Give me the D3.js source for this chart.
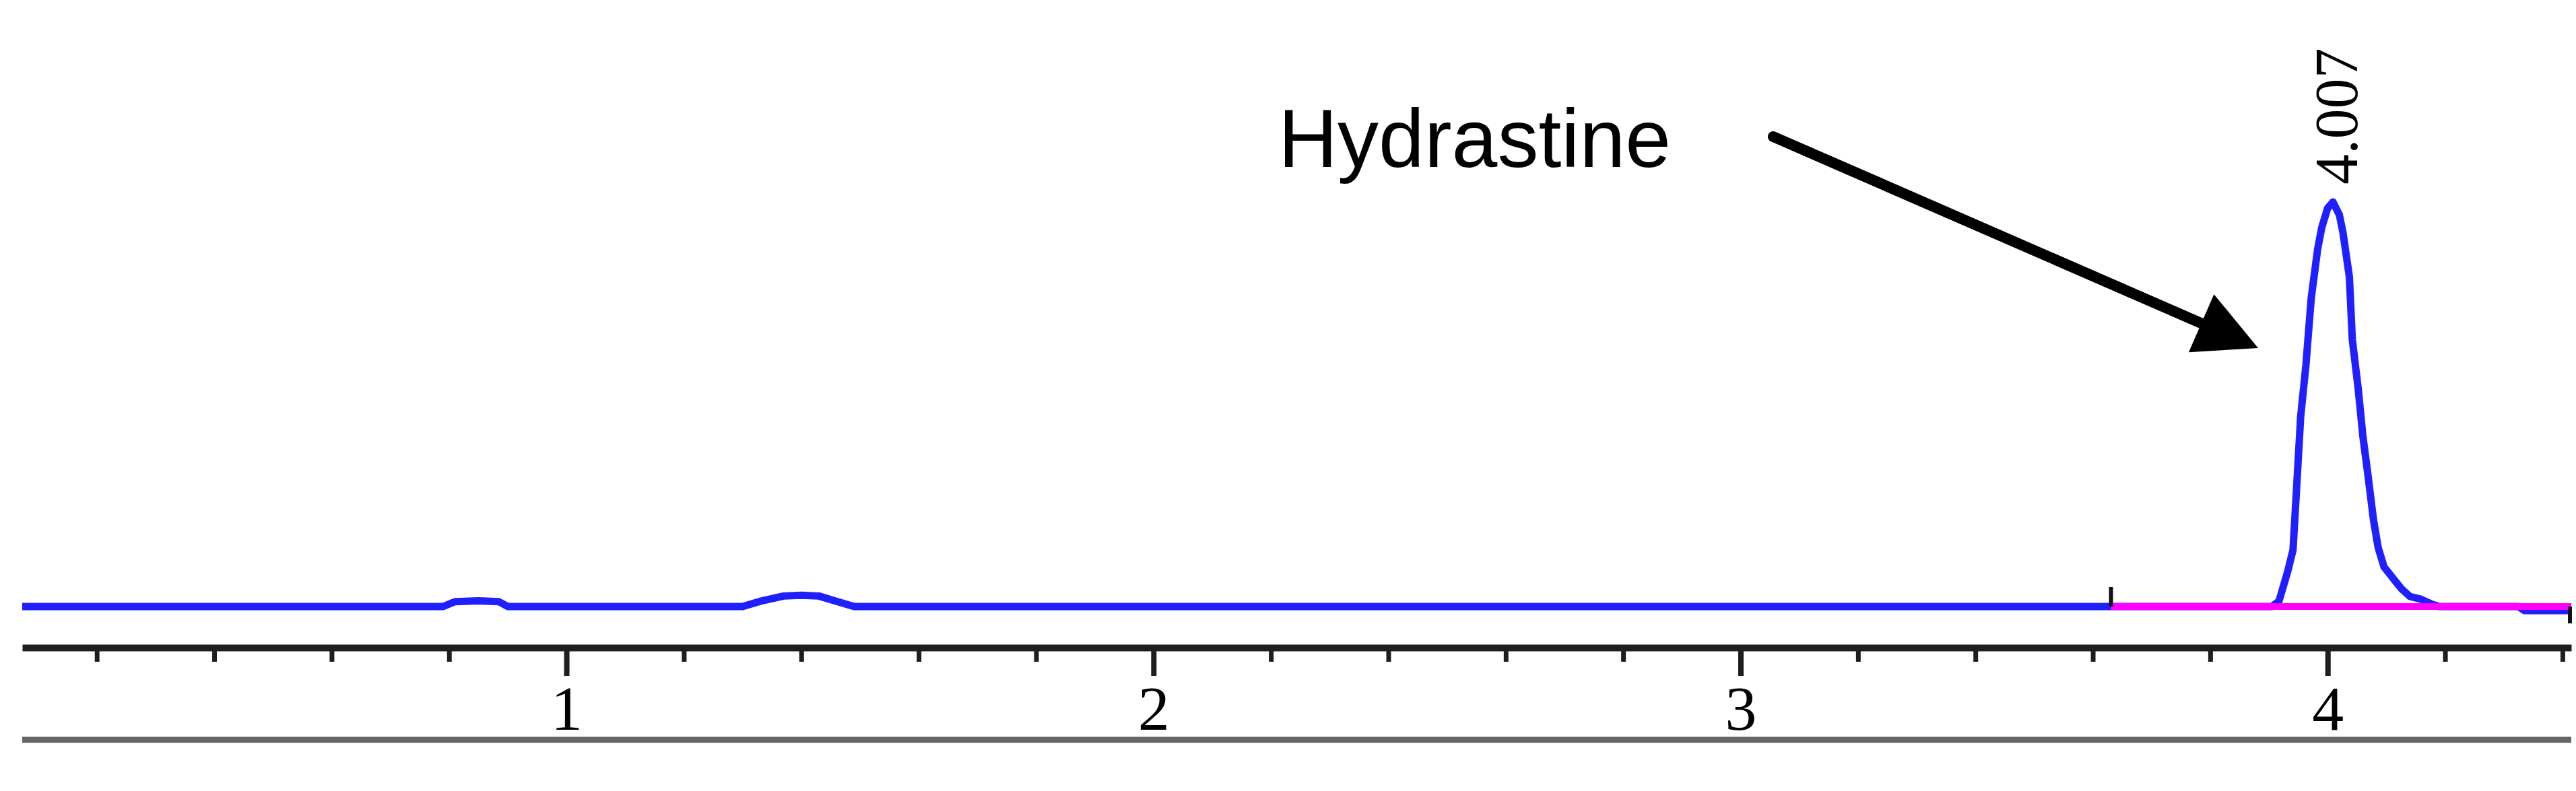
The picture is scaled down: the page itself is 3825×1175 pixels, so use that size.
<!DOCTYPE html>
<html>
<head>
  <meta charset="UTF-8">
  <title>Hydrastine chromatogram</title>
  <style>
    body { margin: 0; background: #fff; }
    svg { display: block; }
    .trace { fill: none; stroke: #2020ff; stroke-width: 11px; stroke-linejoin: round; }
    .baseline { fill: none; stroke: #ff00ff; stroke-width: 10px; }
    .axis path, .axis line { stroke: #1e1e1e; }
    .axis text { font-family: "Liberation Serif", "Times New Roman", serif; fill: #000; }
  </style>
</head>
<body>
  <div id="chart"></div>

  <script src="https://d3js.org/d3.v7.min.js"></script>
  <script>
    // retention time (min) and detector signal (relative units)
    const times = [
      0.073, 0.79, 0.81, 0.85, 0.885, 0.90,
      1.30, 1.33, 1.37, 1.40, 1.43, 1.46, 1.49,
      3.905, 3.917, 3.932, 3.941, 3.947, 3.954, 3.963, 3.972, 3.983, 3.990, 4.000,
      4.009, 4.020, 4.026, 4.037, 4.042, 4.052, 4.060, 4.069, 4.078, 4.086,
      4.096, 4.125, 4.140, 4.159, 4.179, 4.19,
      4.325, 4.335, 4.415
    ];
    const signal = [
      0, 0, 1.2, 1.4, 1.2, 0,
      0, 1.3, 2.6, 2.8, 2.6, 1.3, 0,
      0, 1.3, 8.7, 14.0, 29.0, 46.9, 59.7, 76.2, 88.4, 93.7, 98.5,
      100, 96.8, 92.5, 81.5, 66.0, 53.9, 42.1, 32.1, 21.5, 14.6,
      9.8, 4.5, 2.5, 1.8, 0.5, 0,
      0, -1.0, -1.0
    ];

    // integration baseline of the peak
    const baselineTimes = [3.631, 4.415];
    const baselineValues = [0, 0];

    const majorTicks = [1, 2, 3, 4];
    const minorTicks = d3.range(2, 45, 2).map(d => d / 10).filter(d => !majorTicks.includes(d));

    const peakName = "Hydrastine";
    const peakTime = 4.007;
    const peakLabel = "4.007";

    const width = 3825;
    const height = 1175;

    const svg = d3.select("#chart")
      .append("svg")
      .attr("width", width)
      .attr("height", height);

    const x = d3.scaleLinear().domain([0.073, 4.415]).range([33, 3818]);
    const y = d3.scaleLinear().domain([0, 100]).range([901, 300]);

    const axisY = 962;

    // trace
    const line = d3.line()
      .x((d, i) => x(times[i]))
      .y((d, i) => y(signal[i]));

    svg.append("path")
      .attr("class", "trace")
      .attr("d", line(times));

    // baseline on top of the trace
    svg.append("path")
      .attr("class", "baseline")
      .attr("d", d3.line().x((d, i) => x(baselineTimes[i])).y((d, i) => y(baselineValues[i]))(baselineTimes));

    // baseline start / end markers
    svg.append("line")
      .attr("x1", x(baselineTimes[0])).attr("x2", x(baselineTimes[0]))
      .attr("y1", y(0) - 29).attr("y2", y(0))
      .attr("stroke", "#111").attr("stroke-width", 6);
    svg.append("line")
      .attr("x1", x(baselineTimes[1]) - 2).attr("x2", x(baselineTimes[1]) - 2)
      .attr("y1", y(0)).attr("y2", y(0) + 25)
      .attr("stroke", "#111").attr("stroke-width", 6);

    // minor ticks
    svg.append("g")
      .attr("class", "axis")
      .attr("transform", `translate(0,${axisY})`)
      .call(d3.axisBottom(x).tickValues(minorTicks).tickSize(21).tickSizeOuter(0).tickFormat(""))
      .call(g => g.selectAll(".tick line").attr("stroke-width", 7))
      .call(g => g.select(".domain").attr("stroke-width", 10));

    // major ticks + labels
    svg.append("g")
      .attr("class", "axis")
      .attr("transform", `translate(0,${axisY})`)
      .call(d3.axisBottom(x).tickValues(majorTicks).tickSize(42).tickSizeOuter(0).tickFormat(d3.format("d")))
      .call(g => g.select(".domain").remove())
      .call(g => g.selectAll(".tick line").attr("stroke-width", 8))
      .call(g => g.selectAll(".tick text")
        .attr("y", 122)
        .attr("dy", 0)
        .attr("font-size", 94));

    // lower rule
    svg.append("line")
      .attr("x1", x.range()[0]).attr("x2", x.range()[1])
      .attr("y1", 1099).attr("y2", 1099)
      .attr("stroke", "#666").attr("stroke-width", 9);

    // peak retention label
    svg.append("text")
      .attr("transform", `translate(${x(peakTime) + 38},274) rotate(-90)`)
      .attr("font-family", "Liberation Serif, Times New Roman, serif")
      .attr("font-size", 90)
      .attr("fill", "#000")
      .text(peakLabel);

    // compound name and arrow
    svg.append("text")
      .attr("x", 1898)
      .attr("y", 248)
      .attr("font-family", "Liberation Sans, Arial, sans-serif")
      .attr("font-size", 122)
      .attr("fill", "#000")
      .text(peakName);

    const start = [2633, 203];
    const tip = [3353, 517];
    const ang = Math.atan2(tip[1] - start[1], tip[0] - start[0]);
    const headLen = 92, headHalf = 47;
    const base = [tip[0] - headLen * Math.cos(ang), tip[1] - headLen * Math.sin(ang)];

    svg.append("line")
      .attr("x1", start[0]).attr("y1", start[1])
      .attr("x2", base[0]).attr("y2", base[1])
      .attr("stroke", "#000").attr("stroke-width", 16)
      .attr("stroke-linecap", "round");

    svg.append("path")
      .attr("d", d3.line()([
        tip,
        [base[0] + headHalf * Math.sin(ang), base[1] - headHalf * Math.cos(ang)],
        [base[0] - headHalf * Math.sin(ang), base[1] + headHalf * Math.cos(ang)]
      ]) + "Z")
      .attr("fill", "#000");
  </script>
</body>
</html>
